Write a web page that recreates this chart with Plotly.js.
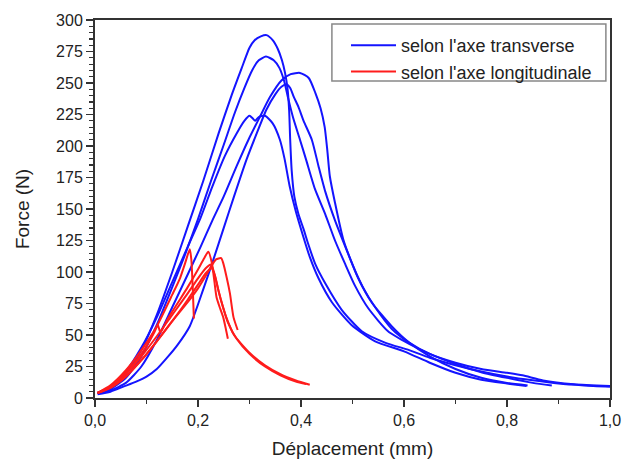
<!DOCTYPE html>
<html>
<head>
<meta charset="utf-8">
<script src="https://cdn.plot.ly/plotly-3.0.1.min.js"></script>
<style>html,body{margin:0;padding:0;background:#fff;}#chart{width:623px;height:459px;}</style>
</head>
<body>
<div id="chart"></div>
<script>
// Transverse specimens (blue)
const b1x = [0.005,0.03,0.06,0.09,0.12,0.15,0.18,0.21,0.24,0.265,0.285,0.3,0.31,0.322,0.333,0.345,0.355,0.363,0.369,0.374,0.377,0.379,0.382,0.387,0.395,0.405,0.415,0.428,0.447,0.479,0.518,0.563,0.61,0.65,0.70,0.75,0.80,0.85,0.90,0.95,1.0];
const b1y = [4,8,19,38,66,100,136,172,210,240,262,278,284,287,288,284,277,268,258,245,228,205,180,160,146,134,121,106,91,70,53,44,38,32,26,21,17,14,11.5,10,9];
const b2x = [0.005,0.03,0.06,0.09,0.12,0.15,0.175,0.2,0.225,0.25,0.272,0.29,0.305,0.318,0.332,0.347,0.358,0.367,0.375,0.385,0.398,0.41,0.427,0.447,0.466,0.485,0.505,0.531,0.569,0.61,0.65,0.70,0.75,0.80,0.85,0.887];
const b2y = [4,7,16,33,58,88,114,142,172,201,227,246,260,268,271,268,262,252,238,222,205,189,166,146,125,107,89,71,53,43,35,27,20.5,16,12,10];
const b3x = [0.005,0.03,0.06,0.09,0.12,0.15,0.18,0.205,0.228,0.25,0.275,0.298,0.32,0.34,0.362,0.38,0.398,0.415,0.428,0.438,0.446,0.451,0.456,0.466,0.482,0.502,0.52,0.544,0.576,0.61,0.65,0.70,0.75,0.80,0.83,0.87,0.93,1.0];
const b3y = [4,6,12,25,46,72,98,120,141,160,184,205,223,239,252,257,258,254,242,230,215,197,176,155,126,104,88,72,55,44,35,28,23,20,18,14,11,9.5];
const b4x = [0.005,0.03,0.055,0.08,0.1,0.12,0.14,0.16,0.184,0.21,0.23,0.25,0.27,0.294,0.314,0.333,0.35,0.362,0.372,0.379,0.386,0.395,0.405,0.421,0.434,0.447,0.466,0.492,0.51,0.537,0.576,0.61,0.65,0.70,0.75,0.80,0.84];
const b4y = [3,5,9,13,17,23,32,42,57,86,110,135,160,189,210,229,241,247,249,246,239,231,220,205,184,164,141,114,96,76,57,44,33,23,16,12,10];
const b5x = [0.005,0.03,0.06,0.09,0.12,0.15,0.18,0.205,0.228,0.252,0.275,0.29,0.3,0.306,0.311,0.318,0.33,0.345,0.359,0.368,0.378,0.39,0.403,0.417,0.434,0.46,0.498,0.544,0.6,0.65,0.70,0.75,0.80,0.838];
const b5y = [4,9,21,40,64,92,120,143,168,192,210,220,224,222,220,223,224,218,205,190,168,148,130,112,95,76,58,45,37,28,20,14.5,11.5,9.5];

// Longitudinal specimens (red)
const r1x = [0.005,0.03,0.06,0.09,0.12,0.15,0.165,0.175,0.184,0.187,0.19,0.192];
const r1y = [4,10,22,38,57,82,95,107,118,110,85,63];
const r2x = [0.005,0.03,0.06,0.09,0.115,0.122,0.127,0.14,0.16,0.18,0.2,0.212,0.22,0.227,0.232,0.236,0.243,0.249,0.254,0.258];
const r2y = [4,9,20,35,52,58,52,62,75,88,102,111,116,107,92,80,71,64,55,47];
const r3x = [0.005,0.03,0.06,0.09,0.12,0.15,0.18,0.2,0.215,0.228,0.235,0.245,0.249,0.256,0.262,0.269,0.277];
const r3y = [4,8,17,30,45,61,76,87,97,106,110,111,107,95,83,64,54];
const r4x = [0.005,0.03,0.06,0.09,0.12,0.15,0.18,0.2,0.215,0.225,0.231,0.238,0.245,0.255,0.27,0.3,0.33,0.36,0.39,0.417];
const r4y = [4,9,19,33,49,66,83,95,103,106,100,88,77,64,50,36,26,19,14,10.5];
const r5x = [0.005,0.03,0.06,0.09,0.12,0.15,0.18,0.2,0.215,0.226,0.233,0.24,0.248,0.258,0.275,0.3,0.33,0.36,0.39,0.41];
const r5y = [4,8,17,30,45,61,78,90,99,103,97,85,73,60,47,35,25,18,13,11];

const seriesNames = ["selon l'axe transverse", "selon l'axe longitudinale"];
const xTitle = "Déplacement (mm)";
const yTitle = "Force (N)";

const BLUE = '#1414ff';
const RED = '#ff1c1c';

function tr(x, y, color, name, show) {
  return {
    x: x, y: y, type: 'scatter', mode: 'lines',
    line: {color: color, width: 2, shape: 'spline', smoothing: 0.6},
    name: name, showlegend: show, hoverinfo: 'skip'
  };
}

const data = [
  tr(b1x, b1y, BLUE, seriesNames[0], true),
  tr(b2x, b2y, BLUE, seriesNames[0], false),
  tr(b3x, b3y, BLUE, seriesNames[0], false),
  tr(b4x, b4y, BLUE, seriesNames[0], false),
  tr(b5x, b5y, BLUE, seriesNames[0], false),
  tr(r1x, r1y, RED, seriesNames[1], true),
  tr(r2x, r2y, RED, seriesNames[1], false),
  tr(r3x, r3y, RED, seriesNames[1], false),
  tr(r4x, r4y, RED, seriesNames[1], false),
  tr(r5x, r5y, RED, seriesNames[1], false)
];

const FONT = '"Liberation Sans", Arial, sans-serif';

const layout = {
  width: 623, height: 459,
  margin: {l: 95, r: 13, t: 20, b: 61},
  paper_bgcolor: '#fff', plot_bgcolor: '#fff',
  separators: ', ',
  font: {family: FONT, size: 16, color: '#222'},
  showlegend: true,
  legend: {
    x: 0.4874, y: 0.9815, xanchor: 'left', yanchor: 'top',
    bgcolor: 'rgba(0,0,0,0)', borderwidth: 0,
    font: {family: FONT, size: 18, color: '#222'},
    itemwidth: 45, tracegroupgap: 0, traceorder: 'normal'
  },
  shapes: [{
    type: 'rect', xref: 'paper', yref: 'paper',
    x0: 0.460, x1: 0.992, y0: 0.8386, y1: 0.9894,
    line: {color: '#888', width: 1.5}, fillcolor: '#fff', layer: 'below'
  }],
  xaxis: {
    range: [0, 1], dtick: 0.2, tick0: 0, tickformat: '.1f',
    showgrid: false, zeroline: false,
    showline: true, linecolor: '#333', linewidth: 2, mirror: true,
    ticks: 'outside', ticklen: 7, tickwidth: 1.5, tickcolor: '#333',
    minor: {dtick: 0.1, ticks: 'outside', ticklen: 4, tickwidth: 1.5, tickcolor: '#333', showgrid: false},
    tickfont: {family: FONT, size: 16, color: '#222'},
    title: {text: xTitle, font: {family: FONT, size: 19, color: '#222'}, standoff: 14}
  },
  yaxis: {
    range: [0, 300], dtick: 25, tick0: 0,
    showgrid: false, zeroline: false,
    showline: true, linecolor: '#333', linewidth: 2, mirror: true,
    ticks: 'outside', ticklen: 7, tickwidth: 1.5, tickcolor: '#333',
    minor: {dtick: 5, ticks: 'outside', ticklen: 4, tickwidth: 1.2, tickcolor: '#333', showgrid: false},
    tickfont: {family: FONT, size: 16, color: '#222'},
    title: {text: yTitle, font: {family: FONT, size: 19, color: '#222'}, standoff: 21}
  }
};

Plotly.newPlot('chart', data, layout, {staticPlot: true, displayModeBar: false});
</script>
</body>
</html>
